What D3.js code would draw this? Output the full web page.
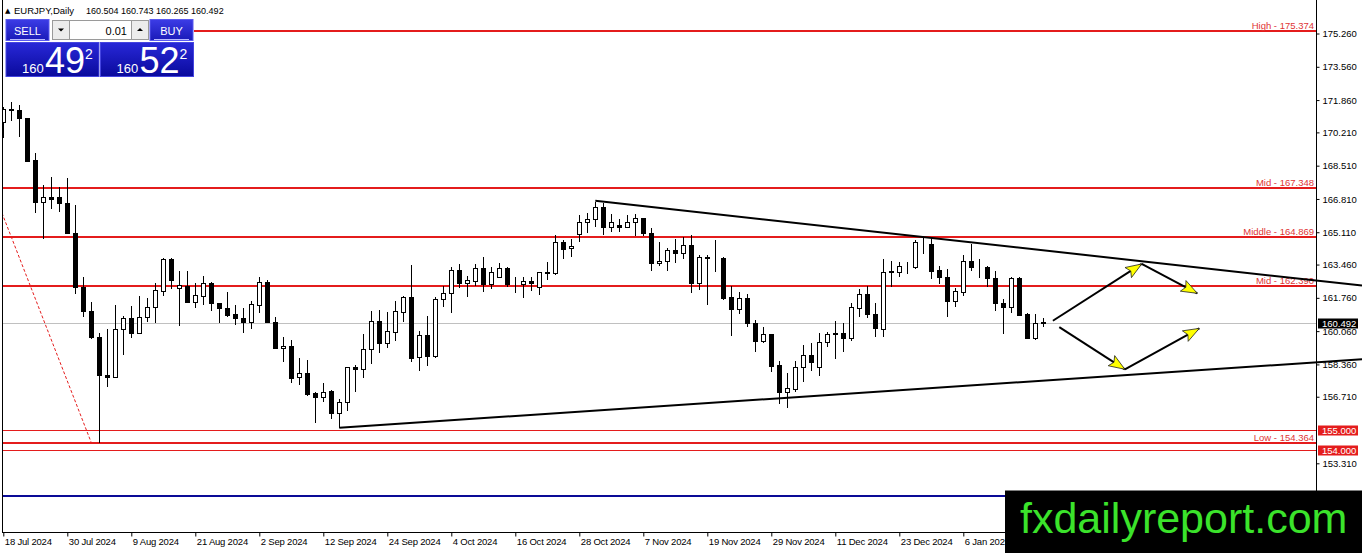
<!DOCTYPE html>
<html>
<head>
<meta charset="utf-8">
<script src="https://cdnjs.cloudflare.com/ajax/libs/d3/7.8.5/d3.min.js"></script>
<style>
  body { margin: 0; background: #fff; }
  svg { display: block; font-family: "Liberation Sans", Arial, sans-serif; }
</style>
</head>
<body>
<div id="chart"></div>
<script>
var width = 1362;
var height = 553;

// EURJPY daily bars (bar 0 = 18 Jul 2024)
var opens = [170.76,171.33,171.35,170.93,168.80,166.67,166.89,166.89,166.59,165.09,
  162.30,161.10,159.78,157.82,157.70,160.15,160.71,159.95,160.80,161.31,
  162.12,163.73,162.25,162.36,161.56,161.87,162.50,161.48,161.23,160.92,
  160.71,160.51,161.39,162.58,160.54,159.18,159.30,157.70,157.91,156.88,
  156.68,157.00,155.89,156.46,158.21,158.11,159.13,160.58,159.47,160.03,
  161.05,161.79,158.72,159.86,158.80,161.69,161.99,163.18,162.53,162.64,
  163.27,162.45,162.84,163.27,162.48,162.47,162.64,162.33,163.04,163.04,
  164.60,164.29,165.01,165.65,165.77,166.38,165.36,165.48,165.36,165.65,
  165.82,165.09,163.52,163.66,164.20,164.07,164.46,162.50,163.86,163.78,
  163.81,161.79,161.17,161.74,160.49,159.57,159.90,158.33,156.97,157.10,
  158.21,158.84,158.24,159.49,159.93,159.95,159.69,161.23,161.94,160.92,
  160.15,163.09,163.06,163.40,163.35,164.55,164.51,163.18,162.81,161.61,
  162.07,163.64,163.35,163.35,162.76,161.48,161.28,162.79,160.93,159.72,
  160.504];
var highs = [171.52,171.78,171.61,170.96,169.14,167.52,167.92,167.44,167.87,166.50,
  162.81,161.56,159.98,160.15,161.39,160.83,161.34,161.87,161.74,162.53,
  163.78,163.78,163.13,163.13,162.50,162.88,162.58,161.50,162.07,161.39,
  161.23,161.61,162.81,162.67,160.80,159.78,159.61,158.67,158.59,156.97,
  157.43,157.05,156.58,158.24,158.33,159.91,161.10,161.14,161.02,161.60,
  161.85,163.44,160.07,160.83,161.79,162.36,163.32,163.49,162.88,163.49,
  163.86,163.35,163.52,163.32,162.81,162.81,162.81,163.09,163.61,164.97,
  164.71,164.75,165.99,166.08,166.68,166.62,166.04,165.77,165.99,166.04,
  165.85,165.31,164.63,164.29,164.75,164.85,164.97,163.95,163.95,164.71,
  163.86,162.36,162.04,161.94,160.63,160.29,159.92,158.55,157.91,158.55,
  159.35,159.47,159.95,160.03,160.59,160.49,161.51,162.20,162.36,161.51,
  163.73,163.66,163.61,163.61,164.71,164.80,164.83,163.39,163.22,162.25,
  163.95,164.51,163.73,163.39,163.13,161.70,162.81,162.84,161.00,160.93,
  160.743];
var lows = [169.92,170.81,169.99,168.71,166.08,164.75,166.28,166.16,165.02,161.96,
  160.80,159.64,154.37,157.22,157.65,158.84,159.69,159.95,160.54,160.49,
  161.87,162.21,160.32,161.48,161.26,161.39,161.10,160.46,160.80,160.37,
  159.95,160.15,160.97,160.46,159.13,158.50,157.40,157.31,156.75,155.38,
  156.46,155.56,155.10,156.00,156.97,157.68,158.37,158.96,159.18,159.57,
  160.54,158.50,158.04,158.28,158.67,161.31,160.97,162.25,161.82,162.36,
  162.07,162.21,162.76,162.33,162.02,161.77,162.12,161.90,162.67,162.93,
  163.73,163.86,164.63,165.09,165.39,164.97,165.14,165.14,165.31,164.93,
  164.93,163.15,163.39,163.15,163.55,163.73,161.99,162.16,161.39,163.09,
  161.65,159.81,160.93,160.25,159.01,159.44,157.96,156.34,156.12,156.97,
  157.48,158.04,157.78,159.26,158.62,159.01,159.57,160.80,160.71,159.74,
  159.78,162.30,162.81,162.96,163.22,164.00,162.71,162.47,160.80,161.31,
  161.85,163.15,162.76,162.30,161.10,159.91,161.00,160.86,159.69,159.61,
  160.265];
var closes = [171.39,171.38,170.93,168.75,166.67,166.89,166.82,166.59,165.09,162.30,
  161.10,159.78,157.82,157.70,160.15,160.71,159.98,160.80,161.31,162.16,
  163.73,162.67,162.42,161.56,161.90,162.50,161.48,161.23,160.88,160.71,
  160.51,161.43,162.58,160.54,159.18,159.30,157.65,157.91,156.85,156.68,
  156.97,155.89,156.46,158.21,158.11,159.13,160.58,159.47,160.07,161.09,
  161.82,158.67,159.86,158.80,161.70,161.99,163.18,162.53,162.67,163.27,
  162.47,163.06,163.27,162.47,162.45,162.64,162.50,163.06,163.07,164.60,
  164.25,164.41,165.65,165.77,166.38,165.36,165.65,165.36,165.65,165.82,
  165.09,163.52,163.66,164.20,164.07,164.46,162.53,163.83,163.78,163.80,
  161.74,161.17,161.74,160.49,159.57,159.90,158.29,156.97,157.14,158.21,
  158.84,158.50,159.49,159.91,159.96,159.69,161.28,161.94,160.92,160.20,
  163.06,163.11,163.40,163.37,164.60,164.57,163.15,162.81,161.61,162.11,
  163.64,163.35,163.33,162.76,161.48,161.28,162.76,160.88,159.72,160.46,
  160.492];

// one date label every 8 bars (the later ones sit under the watermark)
var dateLabels = ["18 Jul 2024","30 Jul 2024","9 Aug 2024","21 Aug 2024","2 Sep 2024",
  "12 Sep 2024","24 Sep 2024","4 Oct 2024","16 Oct 2024","28 Oct 2024","7 Nov 2024",
  "19 Nov 2024","29 Nov 2024","11 Dec 2024","23 Dec 2024","6 Jan 2025"];
var priceTicks = [175.260,173.560,171.860,170.210,168.510,166.810,165.110,163.460,
  161.760,160.060,158.360,156.710,153.310];

var fiboNames = ["High","Mid","Middle","Mid","Low"];
var fiboValues = [175.374,167.348,164.869,162.390,154.364];
var markLevels = [155.000,154.000];
var blueLevel = 151.62;
var lastPrice = 160.492;

// [bar, price] anchors of the drawn objects
var fiboDiagonal = [[-9,175.374],[11,154.364]];
var upperTrend = [[74,166.72],[116,164.82]];
var lowerTrend = [[42,155.13],[120,157.26]];
var upPath = [[131.2,160.59],[142.3,163.49],[149.25,161.99]];
var downPath = [[132.0,160.26],[140.2,158.11],[149.5,160.20]];

var plotLeft = 2, plotRight = 1316, plotBottom = 532;
var red = "#e41c1c";

var x = d3.scaleLinear().domain([0,164]).range([3.3,1315.3]);
var y = d3.scaleLinear().domain([153.31,175.26]).range([463.3,33.5]);

var svg = d3.select("#chart").append("svg")
  .attr("width", width)
  .attr("height", height)
  .attr("viewBox", "0 0 " + width + " " + height);

svg.append("rect").attr("width", width).attr("height", height).attr("fill", "#fff");

var defs = svg.append("defs");
defs.append("clipPath").attr("id", "plotclip")
  .append("rect").attr("x", plotLeft + 0.5).attr("y", 0)
  .attr("width", plotRight - plotLeft).attr("height", plotBottom);

var gradBtn = defs.append("linearGradient").attr("id", "btn").attr("x1", 0).attr("y1", 0).attr("x2", 0).attr("y2", 1);
gradBtn.append("stop").attr("offset", "0").attr("stop-color", "#3c3ce6");
gradBtn.append("stop").attr("offset", "1").attr("stop-color", "#1a1ab8");
var gradBig = defs.append("linearGradient").attr("id", "big").attr("x1", 0).attr("y1", 0).attr("x2", 0).attr("y2", 1);
gradBig.append("stop").attr("offset", "0").attr("stop-color", "#2828d8");
gradBig.append("stop").attr("offset", "1").attr("stop-color", "#0a0a9c");

var crisp = function(v){ return Math.round(v) + 0.5; };

var plot = svg.append("g").attr("clip-path", "url(#plotclip)");

// current price line
plot.append("line")
  .attr("x1", plotLeft).attr("x2", plotRight)
  .attr("y1", crisp(y(lastPrice))).attr("y2", crisp(y(lastPrice)))
  .attr("stroke", "#c0c0c0").attr("stroke-width", 1);

// fibo levels
plot.selectAll("line.fibo")
  .data(fiboValues)
  .enter().append("line")
  .attr("class", "fibo")
  .attr("x1", plotLeft).attr("x2", plotRight)
  .attr("y1", function(d){ return Math.round(y(d)); })
  .attr("y2", function(d){ return Math.round(y(d)); })
  .attr("stroke", red).attr("stroke-width", 2);

plot.selectAll("line.mark")
  .data(markLevels)
  .enter().append("line")
  .attr("class", "mark")
  .attr("x1", plotLeft).attr("x2", plotRight)
  .attr("y1", function(d){ return crisp(y(d)); })
  .attr("y2", function(d){ return crisp(y(d)); })
  .attr("stroke", red).attr("stroke-width", 1);

plot.append("line")
  .attr("x1", plotLeft).attr("x2", plotRight)
  .attr("y1", Math.round(y(blueLevel))).attr("y2", Math.round(y(blueLevel)))
  .attr("stroke", "#0a0a96").attr("stroke-width", 2);

// fibo diagonal
plot.append("line")
  .attr("x1", x(fiboDiagonal[0][0])).attr("y1", y(fiboDiagonal[0][1]))
  .attr("x2", x(fiboDiagonal[1][0])).attr("y2", y(fiboDiagonal[1][1]))
  .attr("stroke", red).attr("stroke-width", 1)
  .attr("stroke-dasharray", "3,2");

// candles
var bars = opens.map(function(o, i){
  return {i: i, o: o, h: highs[i], l: lows[i], c: closes[i]};
});

var candle = plot.selectAll("g.candle")
  .data(bars)
  .enter().append("g")
  .attr("class", "candle");

candle.append("line")
  .attr("x1", function(d){ return crisp(x(d.i)); })
  .attr("x2", function(d){ return crisp(x(d.i)); })
  .attr("y1", function(d){ return Math.round(y(d.h)); })
  .attr("y2", function(d){ return Math.round(y(d.l)); })
  .attr("stroke", "#000").attr("stroke-width", 1);

candle.append("rect")
  .attr("x", function(d){ return crisp(x(d.i)) - 2; })
  .attr("width", 4)
  .attr("y", function(d){ return crisp(y(Math.max(d.o, d.c))); })
  .attr("height", function(d){
    return Math.max(0, Math.round(y(Math.min(d.o, d.c))) - Math.round(y(Math.max(d.o, d.c))));
  })
  .attr("fill", function(d){ return d.c >= d.o ? "#fff" : "#000"; })
  .attr("stroke", "#000").attr("stroke-width", 1);

// fibo labels
svg.selectAll("text.fibo")
  .data(fiboValues)
  .enter().append("text")
  .attr("class", "fibo")
  .attr("x", 1314)
  .attr("y", function(d){ return Math.round(y(d)) - 2; })
  .attr("text-anchor", "end")
  .attr("font-size", "9.5px")
  .attr("fill", "#e03434")
  .text(function(d, i){ return fiboNames[i] + " - " + d3.format(".3f")(d); });

// trend lines, drawn as rays to the right edge
var drawRay = function(pts){
  var x0 = x(pts[0][0]), y0 = y(pts[0][1]);
  var x1 = x(pts[1][0]), y1 = y(pts[1][1]);
  var k = (y1 - y0) / (x1 - x0);
  svg.append("line")
    .attr("x1", x0).attr("y1", y0)
    .attr("x2", width).attr("y2", y0 + k * (width - x0))
    .attr("stroke", "#000").attr("stroke-width", 2);
};
drawRay(upperTrend);
drawRay(lowerTrend);

// projection arrows
var arrowHead = function(p0, p1){
  var dx = p1[0] - p0[0], dy = p1[1] - p0[1];
  var len = Math.sqrt(dx*dx + dy*dy);
  var ux = dx / len, uy = dy / len;
  var L = 16, W = 6;
  var bx = p1[0] - ux * L, by = p1[1] - uy * L;
  return [[p1[0], p1[1]], [bx - uy * W, by + ux * W], [bx + ux * 3, by + uy * 3], [bx + uy * W, by - ux * W]];
};

var drawPath = function(path){
  var px = path.map(function(p){ return [x(p[0]), y(p[1])]; });
  for (var k = 0; k < px.length - 1; k++) {
    var a = px[k], b = px[k + 1];
    svg.append("line")
      .attr("x1", a[0]).attr("y1", a[1]).attr("x2", b[0]).attr("y2", b[1])
      .attr("stroke", "#000").attr("stroke-width", 2);
    svg.append("polygon")
      .attr("points", arrowHead(a, b).map(function(p){ return p.join(","); }).join(" "))
      .attr("fill", "#ffff00").attr("stroke", "#222").attr("stroke-width", 0.8);
  }
};
drawPath(upPath);
drawPath(downPath);

// frame
svg.append("line").attr("x1", plotLeft + 0.5).attr("x2", plotLeft + 0.5)
  .attr("y1", 0).attr("y2", plotBottom).attr("stroke", "#000");
svg.append("line").attr("x1", plotLeft).attr("x2", plotRight + 1)
  .attr("y1", plotBottom + 0.5).attr("y2", plotBottom + 0.5).attr("stroke", "#000");
svg.append("line").attr("x1", plotRight + 0.5).attr("x2", plotRight + 0.5)
  .attr("y1", 0).attr("y2", plotBottom).attr("stroke", "#000");

// price axis
var yAxis = d3.axisRight(y)
  .tickValues(priceTicks)
  .tickFormat(d3.format(".3f"))
  .tickSize(3)
  .tickPadding(3);

var yg = svg.append("g")
  .attr("transform", "translate(" + (plotRight + 0.5) + ",0)")
  .call(yAxis);
yg.select(".domain").remove();
yg.selectAll("text").attr("font-size", "9.5px").attr("font-family", "Liberation Sans, Arial, sans-serif").attr("fill", "#000");
yg.selectAll("line").attr("stroke", "#000");

// boxed price labels
var boxes = [{v: lastPrice, bg: "#000"}, {v: markLevels[0], bg: red}, {v: markLevels[1], bg: red}];
var bx = svg.selectAll("g.pbox")
  .data(boxes)
  .enter().append("g")
  .attr("class", "pbox")
  .attr("transform", function(d){ return "translate(" + (plotRight + 2) + "," + Math.round(y(d.v)) + ")"; });
bx.append("rect").attr("x", 0).attr("y", -4.5).attr("width", 40).attr("height", 10).attr("fill", function(d){ return d.bg; });
bx.append("text").attr("x", 4).attr("y", 4).attr("font-size", "9.5px").attr("fill", "#fff")
  .text(function(d){ return d3.format(".3f")(d.v); });

// time axis
var xAxis = d3.axisBottom(x)
  .tickValues(dateLabels.map(function(d, i){ return i * 8; }))
  .tickFormat(function(d, i){ return dateLabels[i]; })
  .tickSize(4)
  .tickPadding(2);

var xg = svg.append("g")
  .attr("transform", "translate(0," + (plotBottom + 0.5) + ")")
  .call(xAxis);
xg.select(".domain").remove();
xg.selectAll("line").attr("stroke", "#000");
xg.selectAll("text")
  .attr("text-anchor", "start")
  .attr("dx", 1)
  .attr("font-size", "9.5px")
  .attr("font-family", "Liberation Sans, Arial, sans-serif")
  .attr("letter-spacing", "-0.2px")
  .attr("fill", "#000");

// title
svg.append("text").attr("x", 5).attr("y", 13).attr("font-size", "7px")
  .attr("font-family", "DejaVu Sans").attr("fill", "#000").text("▲");
svg.append("text").attr("x", 14).attr("y", 14).attr("font-size", "9.5px").attr("fill", "#000")
  .text("EURJPY,Daily");
svg.append("text").attr("x", 86).attr("y", 14).attr("font-size", "9px").attr("fill", "#000")
  .text("160.504 160.743 160.265 160.492");

// one-click trading panel
var panel = svg.append("g");
panel.append("rect").attr("x", 3).attr("y", 18).attr("width", 191).attr("height", 60).attr("fill", "#fff");

var button = function(x0, label){
  panel.append("rect").attr("x", x0).attr("y", 19.5).attr("width", 43).attr("height", 21)
    .attr("fill", "url(#btn)").attr("stroke", "#5a5af0").attr("stroke-width", 1);
  panel.append("line").attr("x1", x0 + 4).attr("x2", x0 + 39).attr("y1", 39.5).attr("y2", 39.5)
    .attr("stroke", "#b8b8ff").attr("stroke-width", 1);
  panel.append("text").attr("x", x0 + 21.5).attr("y", 34.5).attr("text-anchor", "middle")
    .attr("font-size", "11px").attr("fill", "#fff").text(label);
};
button(6, "SELL");
button(150, "BUY");

panel.append("rect").attr("x", 52.5).attr("y", 20.5).attr("width", 17).attr("height", 19)
  .attr("fill", "#ececec").attr("stroke", "#9a9a9a");
panel.append("path").attr("d", "M58,28.5 L64,28.5 L61,31.5 Z").attr("fill", "#000");
panel.append("rect").attr("x", 69.5).attr("y", 20.5).attr("width", 62).attr("height", 19)
  .attr("fill", "#fff").attr("stroke", "#9a9a9a");
panel.append("text").attr("x", 127).attr("y", 34.5).attr("text-anchor", "end")
  .attr("font-size", "11px").attr("fill", "#000").text("0.01");
panel.append("rect").attr("x", 131.5).attr("y", 20.5).attr("width", 17).attr("height", 19)
  .attr("fill", "#ececec").attr("stroke", "#9a9a9a");
panel.append("path").attr("d", "M137,31 L143,31 L140,28 Z").attr("fill", "#000");

var bigPrice = function(x0, big, small, sup){
  panel.append("rect").attr("x", x0).attr("y", 42.5).attr("width", 93).attr("height", 34)
    .attr("fill", "url(#big)").attr("stroke", "#4444e0");
  panel.append("text").attr("x", x0 + 16).attr("y", 73).attr("font-size", "13px").attr("fill", "#fff").text(small);
  panel.append("text").attr("x", x0 + 39).attr("y", 73).attr("font-size", "36px").attr("fill", "#fff").text(big);
  panel.append("text").attr("x", x0 + 79).attr("y", 59).attr("font-size", "14px").attr("fill", "#fff").text(sup);
};
bigPrice(6, "49", "160", "2");
bigPrice(100.5, "52", "160", "2");

// watermark
svg.append("rect").attr("x", 1005).attr("y", 490.5).attr("width", 357).attr("height", 63).attr("fill", "#000");
svg.append("text").attr("x", 1020).attr("y", 533).attr("font-size", "43px")
  .attr("fill", "#3be32b").text("fxdailyreport.com");
</script>
</body>
</html>
